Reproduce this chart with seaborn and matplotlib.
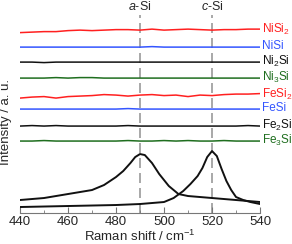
import numpy as np
import pandas as pd
import matplotlib
matplotlib.use("Agg")
import matplotlib.pyplot as plt
import seaborn as sns
from matplotlib.ticker import MultipleLocator

# silicide spectra (flat, offset traces), sampled every 5 cm-1
shift = [440, 445, 450, 455, 460, 465, 470, 475, 480, 485, 490,
         495, 500, 505, 510, 515, 520, 525, 530, 535, 540]
names = ["NiSi$_2$", "NiSi", "Ni$_2$Si", "Ni$_3$Si", "FeSi$_2$", "FeSi", "Fe$_2$Si", "Fe$_3$Si"]
colors = ["#ff2020", "#3355ff", "#111111", "#1f6e1f", "#ff2020", "#3355ff", "#111111", "#1f6e1f"]
offsets = [183, 166, 151, 135, 118, 104, 87, 72]
traces = [
    [-2.5, -2, -1.5, -1.5, -0.5, 0, -0.5, 0, 0.5, 0.5, 0, 1, 0, 0.5, 1, 0.5, 0, 0.5, 0.5, 1, 1],
    [0, 0, 0, 0, 0, 0, 0, 0, 0, 0, 0, 0.5, 0, 0, 0, 0, 0, 0, 0, 0, 0],
    [0, 0, -0.5, 0, 0, 0, 0, 0, 0, 0, 0, 0, 0, 0, 0, 0, 0, 0, 0, 0, 0],
    [0, 0, 0, 0.5, 0, 0.5, 0.5, 0, 0, 0, 0, 0, 0, 0, 0, 0, 0, 0, 0, 0, 0],
    [-3, -2, -1.5, -3, -1.5, -1, -0.5, 0.5, 0, -1, 0, 0.5, -0.5, 0, -1.5, 0, -0.5, 0.5, 1, 1, 1.5],
    [0, 0, 0, 0, 0, 0, 0, 0, 0, 0.5, 0, 0, 0, 0, 0, 0, 0, 0, 0, 0, 0],
    [0, 0.5, 0, 0.5, 0, 0, 0, 0, 0, 0.5, 0, 0, 0, 0, 0, 0, 0, 0, 0, 0.5, 0],
    [0, 0, 0.5, 0, 0, 0, 0, 0, 0, 0.5, 0, 0, 0.5, 0, 0.5, 0, 0, 0.5, 0, 0, 0],
]

# reference spectra
asi_x = [440, 450, 460, 465, 470, 475, 480, 483, 486, 488, 490, 492, 495, 498,
         502, 506, 510, 515, 520, 530, 540]
asi_y = [13, 15, 19, 21, 23, 28, 36, 42, 50, 56, 59, 58, 50, 39, 27, 19, 17, 16, 15, 13, 11]
csi_x = [440, 460, 480, 490, 500, 504, 508, 511, 514, 516, 518, 520, 522, 524,
         526, 528, 530, 533, 536, 540]
csi_y = [6, 7, 8, 9, 11, 15, 22, 29, 37, 45, 56, 62, 57, 44, 32, 23, 16, 13, 11, 9]

sns.set_style("ticks")
plt.rcParams["font.family"] = ["Liberation Sans", "DejaVu Sans"]
plt.rcParams["mathtext.fontset"] = "custom"
plt.rcParams["mathtext.rm"] = "Liberation Sans"
plt.rcParams["mathtext.it"] = "Liberation Sans:italic"

fig = plt.figure(figsize=(2.92, 2.44), dpi=100)
ax = fig.add_axes([0.0685, 0.127, 0.822, 0.811])

for x0, lab in [(490, "$a$-Si"), (520, "$c$-Si")]:
    ax.axvline(x0, color="#999999", ls=(0, (6, 3)), lw=1.2, zorder=0)
    ax.text(x0, 200, lab, ha="center", va="bottom", fontsize=9)

for name, c, off, tr in zip(names, colors, offsets, traces):
    df = pd.DataFrame({"x": shift, "y": np.array(tr) + off})
    sns.lineplot(data=df, x="x", y="y", color=c, lw=1.1, ax=ax)
    ax.text(541, off + 1, name, color=c, fontsize=8.5, va="center", ha="left", clip_on=False)

sns.lineplot(x=asi_x, y=asi_y, color="#111111", lw=1.4, ax=ax)
sns.lineplot(x=csi_x, y=csi_y, color="#111111", lw=1.4, ax=ax)

ax.set_xlim(440, 540)
ax.set_ylim(0, 198)
ax.set_yticks([])
ax.xaxis.set_major_locator(MultipleLocator(20))
ax.xaxis.set_minor_locator(MultipleLocator(10))
ax.spines["bottom"].set_color("#777777")
ax.spines["bottom"].set_linewidth(0.8)
ax.tick_params(axis="x", direction="in", labelsize=9.5, length=4, pad=2, color="#777777")
ax.tick_params(axis="x", which="minor", direction="in", length=2.5, color="#777777")
sns.despine(ax=ax, left=True, top=True, right=True)
ax.set_xlabel("Raman shift / cm$^{-1}$", fontsize=9.5, labelpad=1)
ax.set_ylabel("Intensity / a. u.", fontsize=9.5)
ax.yaxis.set_label_coords(-0.033, 0.46)

fig.savefig("out.png", dpi=100)
